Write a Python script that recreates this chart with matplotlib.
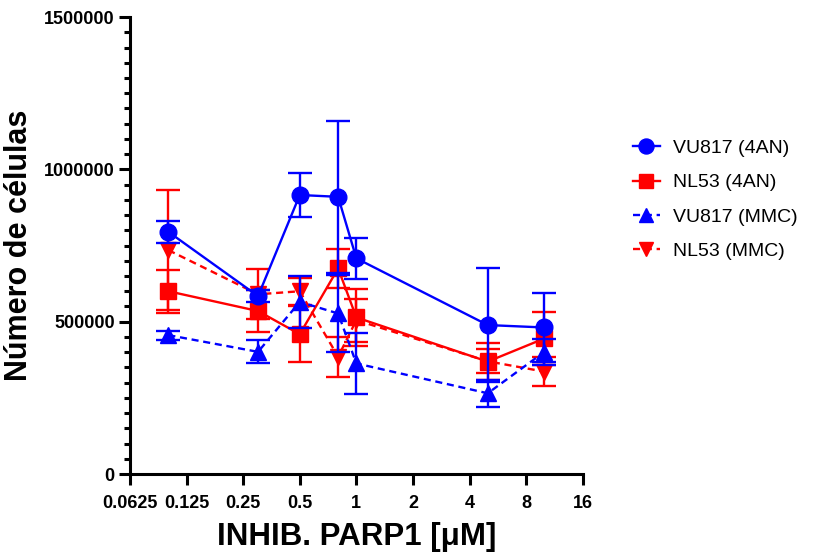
import matplotlib
matplotlib.use("Agg")
import matplotlib.pyplot as plt
from matplotlib.ticker import FixedLocator, MultipleLocator, ScalarFormatter, NullFormatter

plt.rcParams['font.family'] = ['Liberation Sans', 'DejaVu Sans']

# concentrations of the PARP1 inhibitor (uM)
dosis = [0.1, 0.3, 0.5, 0.8, 1, 5, 10]

vu817_4an = [795000, 584000, 916000, 910000, 708000, 489000, 481000]
vu817_4an_err = [35000, 20000, 73000, 250000, 67000, 186000, 114000]

nl53_4an = [600000, 535000, 459000, 675000, 514000, 369000, 445000]
nl53_4an_err = [70000, 70000, 91000, 65000, 95000, 60000, 88000]

vu817_mmc = [456000, 401000, 565000, 527000, 363000, 265000, 401000]
vu817_mmc_err = [15000, 38000, 85000, 126000, 100000, 45000, 43000]

nl53_mmc = [735000, 590000, 600000, 385000, 505000, 370000, 336000]
nl53_mmc_err = [197000, 82000, 45000, 66000, 70000, 40000, 47000]

xticks = [0.0625, 0.125, 0.25, 0.5, 1, 2, 4, 8, 16]
xticklabels = ['0.0625', '0.125', '0.25', '0.5', '1', '2', '4', '8', '16']

AZUL = '#0000FF'
ROJO = '#FF0000'

fig = plt.figure(figsize=(8.15, 5.52), dpi=100)
ax = fig.add_axes([0.1595, 0.1413, 0.5555, 0.8277])

series = [
    (nl53_mmc, nl53_mmc_err, ROJO, 'v', (0, (3, 2)), 'NL53 (MMC)'),
    (nl53_4an, nl53_4an_err, ROJO, 's', '-', 'NL53 (4AN)'),
    (vu817_mmc, vu817_mmc_err, AZUL, '^', (0, (3, 2)), 'VU817 (MMC)'),
    (vu817_4an, vu817_4an_err, AZUL, 'o', '-', 'VU817 (4AN)'),
]

handles = {}
for i, (y, e, c, m, ls, lab) in enumerate(series):
    ax.errorbar(dosis, y, yerr=e, fmt='none', ecolor=c, elinewidth=1.7,
                capsize=8.5, capthick=1.7, zorder=3 + 2 * i, clip_on=False)
    msize = 12 if m == 'o' else 11
    ln, = ax.plot(dosis, y, color=c, linestyle=ls, linewidth=1.7, marker=m,
                  markersize=msize, zorder=4 + 2 * i, label=lab, clip_on=False)
    handles[lab] = ln

ax.set_xscale('log', base=2)
ax.set_xlim(0.0625, 16)
ax.set_ylim(0, 1500000)

ax.xaxis.set_major_locator(FixedLocator(xticks))
ax.set_xticklabels(xticklabels)
ax.xaxis.set_minor_locator(FixedLocator([]))
ax.xaxis.set_minor_formatter(NullFormatter())

ax.yaxis.set_major_locator(MultipleLocator(500000))
ax.yaxis.set_minor_locator(MultipleLocator(50000))
fmt = ScalarFormatter(useOffset=False)
fmt.set_scientific(False)
ax.yaxis.set_major_formatter(fmt)

for s in ['top', 'right']:
    ax.spines[s].set_visible(False)
for s in ['left', 'bottom']:
    ax.spines[s].set_linewidth(2.2)

ax.tick_params(axis='both', which='major', direction='out', length=8, width=2.2,
               labelsize=13, pad=3)
ax.tick_params(axis='x', which='major', pad=7)
ax.tick_params(axis='y', which='minor', direction='out', length=4.5, width=2.2)
for t in ax.get_xticklabels() + ax.get_yticklabels():
    t.set_fontweight('bold')

ax.set_xlabel('INHIB. PARP1 [μM]', fontsize=22.5, fontweight='bold', labelpad=7)
ax.set_ylabel('Número de células', fontsize=22, fontweight='bold')
ax.yaxis.set_label_coords(-0.212, 0.5)

orden = ['VU817 (4AN)', 'NL53 (4AN)', 'VU817 (MMC)', 'NL53 (MMC)']
fig.legend([handles[k] for k in orden], orden, loc='upper left',
           bbox_to_anchor=(0.777, 0.747), frameon=False, fontsize=14,
           handlelength=1.35, handletextpad=0.7, labelspacing=0.85,
           markerscale=0.9, borderpad=0, borderaxespad=0)

fig.savefig('out.png', dpi=100)
